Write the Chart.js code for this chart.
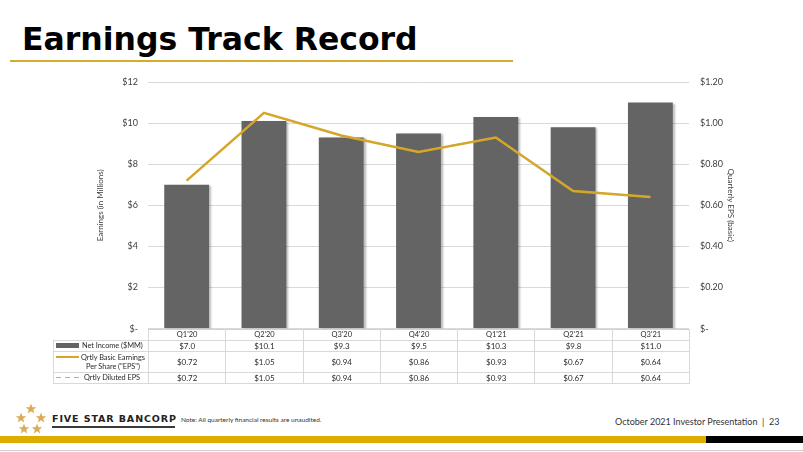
<!DOCTYPE html>
<html>
<head>
<meta charset="utf-8">
<script src="https://cdn.jsdelivr.net/npm/chart.js@4.4.0/dist/chart.umd.min.js"></script>
<style>
  body { margin: 0; width: 803px; height: 452px; position: relative; overflow: hidden; background: #fff; font-family: Lato, sans-serif; }
  #title { position: absolute; left: 22px; top: 21px; line-height: 32px; font: bold 31.5px "DejaVu Sans", sans-serif; color: #000; white-space: nowrap; }
  #title-rule { position: absolute; left: 10px; top: 60px; width: 503px; height: 2px; background: #d5ad2c; }
  #chart { position: absolute; left: 0; top: 60px; }
  #data-table { position: absolute; border-collapse: collapse; font: 8px Lato, sans-serif; color: #2b2b2b; table-layout: fixed; }
  #data-table td { border: 1px solid #d9d9d9; text-align: center; padding: 0; white-space: nowrap; overflow: hidden; }
  #data-table tr.head td { border-top-color: #d8d2c4; font-size: 7.5px; }
  #data-table td.blank { border: none; }
  #data-table td.leg { text-align: left; padding-left: 2px; font-size: 7.4px; letter-spacing: -0.05px; }
  .leg-wrap { display: flex; align-items: center; }
  .sw-bar { display: inline-block; width: 23px; height: 5px; background: #646464; margin-right: 3px; flex: none; }
  .sw-line { display: inline-block; width: 23px; height: 2px; background: #d4a62a; margin-right: 2px; flex: none; }
  .sw-dash { display: inline-block; width: 23px; height: 1.5px; margin-right: 5px; flex: none;
             background: repeating-linear-gradient(to right, #e0aa3a 0 5px, transparent 5px 9px); }
  #stars { position: absolute; left: 14px; top: 402px; }
  #brand { position: absolute; left: 52px; top: 413px; font: bold 9.5px "DejaVu Sans", sans-serif; letter-spacing: 0.9px; color: #222; white-space: nowrap; }
  #brand-rule { position: absolute; left: 52px; top: 426px; width: 123px; height: 2px; background: #3a3a3a; }
  #note { position: absolute; left: 181px; top: 416px; font: 6.5px Lato, sans-serif; color: #333; white-space: nowrap; }
  #pres { position: absolute; left: 615px; top: 416px; font: 9px Lato, sans-serif; color: #333; white-space: nowrap; }
  #gold-bar { position: absolute; left: 0; top: 436px; width: 706px; height: 7px; background: #ddae00; }
  #black-bar { position: absolute; left: 706px; top: 436px; width: 97px; height: 7px; background: #000; }
  #base-rule { position: absolute; left: 0; top: 450px; width: 803px; height: 1px; background: #cfcfcf; }
</style>
</head>
<body>
<div id="title">Earnings Track Record</div>
<div id="title-rule"></div>
<canvas id="chart" width="803" height="285"></canvas>
<table id="data-table"></table>

<svg id="stars" width="36" height="36" viewBox="0 0 36 36"></svg>
<div id="brand">FIVE STAR BANCORP</div>
<div id="brand-rule"></div>
<div id="note">Note: All quarterly financial results are unaudited.</div>
<div id="pres">October 2021 Investor Presentation &nbsp;|&nbsp; 23</div>
<div id="gold-bar"></div>
<div id="black-bar"></div>
<div id="base-rule"></div>

<script>
const quarters = ["Q1'20", "Q2'20", "Q3'20", "Q4'20", "Q1'21", "Q2'21", "Q3'21"];
const netIncome = [7.0, 10.1, 9.3, 9.5, 10.3, 9.8, 11.0];
const basicEps = [0.72, 1.05, 0.94, 0.86, 0.93, 0.67, 0.64];
const dilutedEps = [0.72, 1.05, 0.94, 0.86, 0.93, 0.67, 0.64];

const gold = '#d4a62a';
const gray = '#646464';
const tickColor = '#404040';

// soft shadow behind the bars
const barShadow = {
  id: 'barShadow',
  beforeDatasetDraw(chart, args) {
    if (args.index !== 0) return;
    const ctx = chart.ctx;
    ctx.save();
    ctx.shadowColor = 'rgba(0,0,0,0.28)';
    ctx.shadowOffsetX = 2;
    ctx.shadowOffsetY = 1;
    ctx.shadowBlur = 2;
  },
  afterDatasetDraw(chart, args) {
    if (args.index !== 0) return;
    chart.ctx.restore();
  }
};

const chart = new Chart(document.getElementById('chart'), {
  type: 'bar',
  data: {
    labels: quarters,
    datasets: [
      {
        type: 'bar',
        label: 'Net Income ($MM)',
        data: netIncome,
        backgroundColor: gray,
        yAxisID: 'y',
        barPercentage: 0.58,
        categoryPercentage: 1,
        order: 3
      },
      {
        type: 'line',
        label: 'Qrtly Diluted EPS',
        data: dilutedEps,
        borderColor: '#e8b04a',
        borderWidth: 1.5,
        borderDash: [4, 3],
        pointRadius: 0,
        yAxisID: 'y1',
        order: 2
      },
      {
        type: 'line',
        label: 'Qrtly Basic Earnings Per Share ("EPS")',
        data: basicEps,
        borderColor: gold,
        borderWidth: 2.5,
        pointRadius: 0,
        yAxisID: 'y1',
        order: 1
      }
    ]
  },
  options: {
    responsive: false,
    animation: false,
    layout: { padding: { left: 92, right: 64, top: 22, bottom: 12 } },
    plugins: { legend: { display: false }, tooltip: { enabled: false } },
    scales: {
      x: { display: false, grid: { display: false } },
      y: {
        position: 'left',
        min: 0,
        max: 12,
        ticks: {
          stepSize: 2,
          padding: 10,
          color: tickColor,
          font: { family: 'Lato', size: 9 },
          callback: (v) => v === 0 ? '$-' : '$' + v
        },
        grid: { color: '#d9d9d9', drawTicks: false },
        border: { display: false },
        title: {
          display: true,
          text: 'Earnings (in Millions)',
          color: tickColor,
          font: { family: 'Lato', size: 8 },
          padding: 4
        },
        afterFit: (s) => { s.width = 56; }
      },
      y1: {
        position: 'right',
        min: 0,
        max: 1.2,
        ticks: {
          stepSize: 0.2,
          padding: 11,
          color: tickColor,
          font: { family: 'Lato', size: 9 },
          callback: (v) => v === 0 ? '$-' : '$' + Number(v).toFixed(2)
        },
        grid: { drawOnChartArea: false, drawTicks: false },
        border: { display: false },
        title: {
          display: true,
          text: 'Quarterly EPS (basic)',
          color: tickColor,
          font: { family: 'Lato', size: 8 },
          padding: 4
        },
        afterFit: (s) => { s.width = 50; }
      }
    }
  },
  plugins: [barShadow]
});

// data table under the plot, columns follow the chart area
function buildTable() {
  const area = chart.chartArea;
  const legW = 95;
  const colW = (area.right - area.left) / quarters.length;
  const table = document.getElementById('data-table');
  table.style.left = (area.left - legW) + 'px';
  table.style.top = (60 + area.bottom) + 'px';
  table.style.width = (area.right - area.left + legW) + 'px';

  let html = '<colgroup><col style="width:' + legW + 'px">';
  quarters.forEach(() => { html += '<col style="width:' + colW + 'px">'; });
  html += '</colgroup>';

  html += '<tr class="head" style="height:11px"><td class="blank"></td>';
  quarters.forEach(q => { html += '<td>' + q + '</td>'; });
  html += '</tr>';

  html += '<tr style="height:11px"><td class="leg"><div class="leg-wrap"><span class="sw-bar"></span>Net Income ($MM)</div></td>';
  netIncome.forEach(v => { html += '<td>$' + v.toFixed(1) + '</td>'; });
  html += '</tr>';

  html += '<tr style="height:21px"><td class="leg"><div class="leg-wrap" style="align-items:flex-start"><span class="sw-line" style="margin-top:3px"></span>' +
    '<span style="text-align:center;line-height:9px">Qrtly Basic Earnings<br>Per Share ("EPS")</span></div></td>';
  basicEps.forEach(v => { html += '<td>$' + v.toFixed(2) + '</td>'; });
  html += '</tr>';

  html += '<tr style="height:11px"><td class="leg"><div class="leg-wrap"><span class="sw-dash"></span>Qrtly Diluted EPS</div></td>';
  dilutedEps.forEach(v => { html += '<td>$' + v.toFixed(2) + '</td>'; });
  html += '</tr>';

  table.innerHTML = html;
}
buildTable();

// five-star logo
function starPoints(cx, cy, r) {
  const pts = [];
  for (let i = 0; i < 10; i++) {
    const rad = i % 2 === 0 ? r : r * 0.42;
    const a = -Math.PI / 2 + i * Math.PI / 5;
    pts.push((cx + rad * Math.cos(a)).toFixed(2) + ',' + (cy + rad * Math.sin(a)).toFixed(2));
  }
  return pts.join(' ');
}
const starSpots = [[17, 7], [7, 16], [27, 16], [10, 27], [23, 27]];
document.getElementById('stars').innerHTML = starSpots
  .map(p => '<polygon points="' + starPoints(p[0], p[1], 5.5) + '" fill="#d8ad55"/>')
  .join('');
</script>
</body>
</html>
